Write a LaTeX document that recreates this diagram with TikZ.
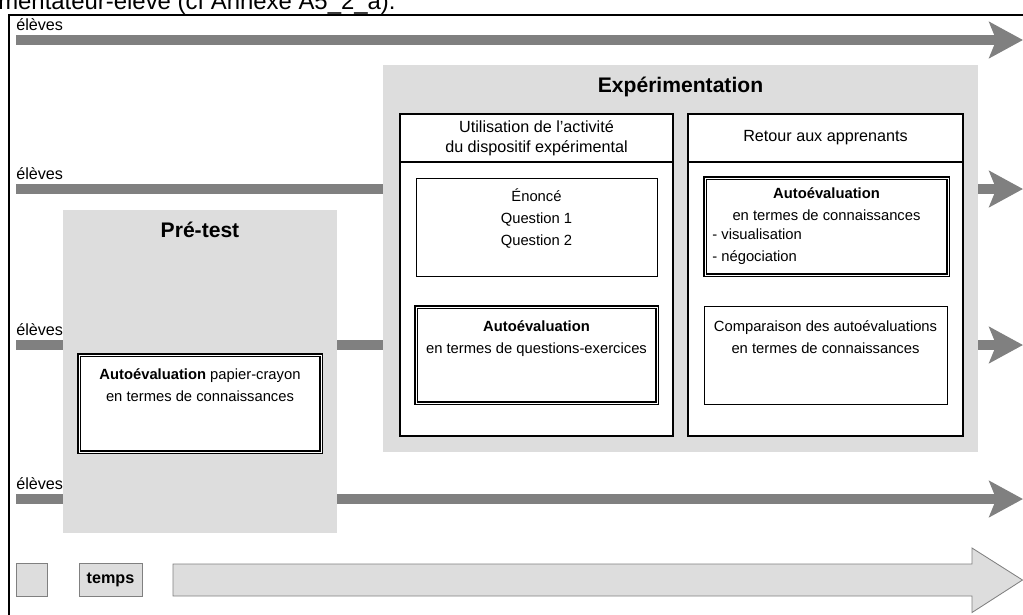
\documentclass[tikz,border=0pt]{standalone}
\usepackage{fontspec}
\setmainfont{Liberation Sans}
\usetikzlibrary{arrows.meta,positioning}
\newcommand{\pxl}{0.025cm}
\definecolor{bargray}{HTML}{808080}
\definecolor{boxgray}{HTML}{DDDDDD}
\begin{document}
\begin{tikzpicture}[x=0.025cm, y=-0.025cm,
    every node/.style={font=\fontsize{10.5}{15.5}\selectfont, inner sep=0pt},
    flow/.style={draw=bargray, line width=7.1pt, -{Stealth[length=24pt,width=25.6pt,inset=5pt]}},
    zone/.style={fill=boxgray},
    column/.style={draw, line width=0.9pt, fill=white},
    plainbox/.style={draw, line width=0.6pt, fill=white},
    dblbox/.style={draw, double, double distance=0.6pt, line width=0.9pt, fill=white},
    txt/.style={align=center},
    head/.style={txt, font=\fontsize{11.5}{14}\selectfont},
    title/.style={font=\fontsize{15}{18}\selectfont\bfseries},
    legbox/.style={draw=bargray, line width=0.6pt, fill=boxgray}]
  \useasboundingbox (0,0) rectangle (1023,614);

  % caption cut by the page edge, and frame
  \node[anchor=base west, font=\fontsize{17}{20}\selectfont] (caption) at (-2,9) {mentateur-élève (cf Annexe A5\_2\_a).};
  \draw[line width=1.4pt] (9,640) -- (9,15) -- (1040,15);

  % pupil lines
  \foreach \r/\y in {1/40,2/189,3/345,4/499} {
    \coordinate (eleve\r s) at (16,\y);
    \coordinate (eleve\r e) at (1023,\y);
    \draw[flow] (eleve\r s) -- (eleve\r e);
    \node[anchor=base west, font=\fontsize{11.5}{14}\selectfont] (lab\r) at (16,\y-10) {élèves};
  }

  % pre-test
  \node[zone, minimum width=274*\pxl, minimum height=323*\pxl] (pretest) at (200,371.5) {};
  \node[title] (pretestT) at (200,230) {Pré-test};
  \node[dblbox, minimum width=242*\pxl, minimum height=97*\pxl] (autopap) at (200,403.5) {};
  \node[txt, below=10pt of autopap.north] (autopapT) {\textbf{Autoévaluation} papier-crayon\\en termes de connaissances};

  % experimentation
  \node[zone, minimum width=595*\pxl, minimum height=387*\pxl] (exper) at (680.5,258.5) {};
  \node[title] (experT) at (680.5,87) {Expérimentation};

  \node[column, minimum width=273*\pxl, minimum height=322*\pxl] (colL) at (536.5,275) {};
  \node[column, head, minimum width=273*\pxl, minimum height=48*\pxl, anchor=north] (headL) at (colL.north) {Utilisation de l’activité\\du dispositif expérimental};
  \node[column, minimum width=275*\pxl, minimum height=322*\pxl] (colR) at (825.5,275) {};
  \node[column, head, minimum width=275*\pxl, minimum height=48*\pxl, anchor=north] (headR) at (colR.north) {Retour aux apprenants};

  \node[plainbox, minimum width=241*\pxl, minimum height=98*\pxl] (enonce) at (536.5,227) {};
  \node[txt, below=8pt of enonce.north] (enonceT) {Énoncé\\Question 1\\Question 2};
  \node[dblbox, minimum width=241*\pxl, minimum height=96*\pxl] (autoques) at (536.5,355) {};
  \node[txt, below=10pt of autoques.north] (autoquesT) {\textbf{Autoévaluation}\\en termes de questions-exercices};

  \node[dblbox, minimum width=243*\pxl, minimum height=97*\pxl] (autoconn) at (826.5,226.5) {};
  \node[txt, below=7pt of autoconn.north] (autoconnT) {\textbf{Autoévaluation}\\en termes de connaissances};
  \node[align=left, anchor=north west] (autoconnL) at ([xshift=5.5pt,yshift=-5.5pt]autoconn.west |- autoconnT.south) {- visualisation\\- négociation};
  \node[plainbox, minimum width=243*\pxl, minimum height=98*\pxl] (compar) at (825.5,355) {};
  \node[txt, below=10.5pt of compar.north] (comparT) {Comparaison des autoévaluations\\en termes de connaissances};

  % legend
  \node[legbox, minimum width=31*\pxl, minimum height=33*\pxl] (legsq) at (31.5,579.5) {};
  \node[legbox, minimum width=63*\pxl, minimum height=33*\pxl, font=\fontsize{11.5}{14}\selectfont\bfseries] (legtemps) at (110.5,579.5) {temps};
  \draw[legbox] (173,564) -- (972,564) -- (972,548) -- (1022.5,580) -- (972,612.5) -- (972,596) -- (173,596) -- cycle;
\end{tikzpicture}
\end{document}
